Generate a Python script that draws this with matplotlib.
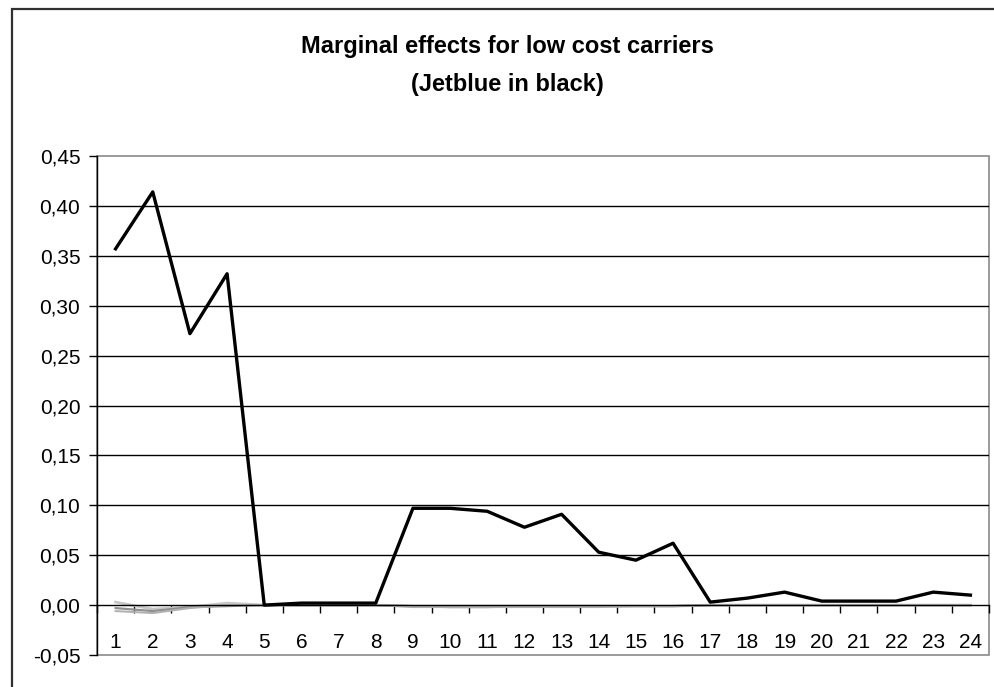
import matplotlib
matplotlib.use("Agg")
import matplotlib.pyplot as plt
from matplotlib.patches import Rectangle
from matplotlib.ticker import FuncFormatter

plt.rcParams['font.family'] = ['Liberation Sans', 'DejaVu Sans']

# categories 1..24
categories = list(range(1, 25))
tick_labels = [str(c) for c in categories]

# Jetblue (black line)
jetblue = [0.357, 0.414, 0.272, 0.332, 0.000, 0.002, 0.002, 0.002,
           0.097, 0.097, 0.094, 0.078, 0.091, 0.053, 0.045, 0.062,
           0.003, 0.007, 0.013, 0.004, 0.004, 0.004, 0.013, 0.010]

# other low cost carriers (grey lines around zero)
other_a = [0.003, -0.004, -0.002, 0.002, 0.000, 0.000, 0.000, 0.000,
           -0.001, -0.001, -0.001, -0.001, -0.001, -0.001, -0.001, -0.001,
           0.000, 0.000, 0.000, 0.000, 0.000, 0.000, 0.000, 0.000]
other_b = [-0.003, -0.006, -0.002, -0.001, 0.000, 0.000, 0.000, 0.000,
           -0.001, -0.002, -0.002, -0.001, -0.001, -0.001, -0.001, -0.001,
           0.000, 0.000, 0.000, 0.000, 0.000, 0.000, 0.000, 0.000]
other_c = [-0.006, -0.008, -0.003, 0.000, 0.000, 0.000, 0.000, 0.000,
           -0.002, -0.002, -0.002, -0.002, -0.002, -0.002, -0.001, -0.001,
           0.000, 0.000, 0.000, 0.000, 0.000, 0.000, 0.000, 0.000]

y_ticks = [-0.05, 0.00, 0.05, 0.10, 0.15, 0.20, 0.25, 0.30, 0.35, 0.40, 0.45]

fig = plt.figure(figsize=(9.94, 6.87), dpi=100)
ax = fig.add_axes([97 / 994, 32 / 687, 892 / 994, 499 / 687])

# gridlines
for y in y_ticks[2:-1]:
    ax.axhline(y, color='black', lw=1.0, zorder=1)

ax.plot(categories, other_a, color='#c8c8c8', lw=2.0, zorder=2)
ax.plot(categories, other_b, color='#909090', lw=1.6, zorder=2)
ax.plot(categories, other_c, color='#b0b0b0', lw=1.4, zorder=2)
ax.plot(categories, jetblue, color='black', lw=2.4, zorder=3)

ax.set_xlim(0.5, 24.5)
ax.set_ylim(-0.05, 0.45)

for s in ['top', 'right']:
    ax.spines[s].set_visible(False)
ax.spines['left'].set_color('black')
ax.spines['left'].set_linewidth(1.0)
ax.spines['bottom'].set_position(('data', 0))
ax.spines['bottom'].set_color('black')
ax.spines['bottom'].set_linewidth(1.0)

# grey plot-area border
ax.add_patch(Rectangle((0, 0), 1, 1, transform=ax.transAxes, fill=False,
                       edgecolor='#8a8a8a', lw=1.2, zorder=0, clip_on=False))

ax.set_yticks(y_ticks)
ax.yaxis.set_major_formatter(FuncFormatter(lambda v, p: f"{v:.2f}".replace('.', ',')))
ax.tick_params(axis='y', direction='out', length=6, width=1, pad=6, labelsize=15)

# ticks between categories, labels at category centres
ax.set_xticks([c - 0.5 for c in categories] + [24.5])
ax.set_xticklabels([])
ax.set_xticks(categories, minor=True)
ax.set_xticklabels(tick_labels, minor=True)
ax.tick_params(axis='x', which='major', direction='out', length=6, width=1)
ax.tick_params(axis='x', which='minor', length=0, pad=20, labelsize=15)

fig.text(0.51, 1 - 47 / 687, 'Marginal effects for low cost carriers',
         ha='center', va='center', fontsize=17, fontweight='bold')
fig.text(0.51, 1 - 85 / 687, '(Jetblue in black)',
         ha='center', va='center', fontsize=17, fontweight='bold')

# outer chart frame
fig.add_artist(Rectangle((12 / 994, -0.1), 1.2, (687 - 9) / 687 + 0.1,
                         transform=fig.transFigure, fill=False,
                         edgecolor='#303030', lw=1.6))

fig.savefig('out.png', dpi=100)
